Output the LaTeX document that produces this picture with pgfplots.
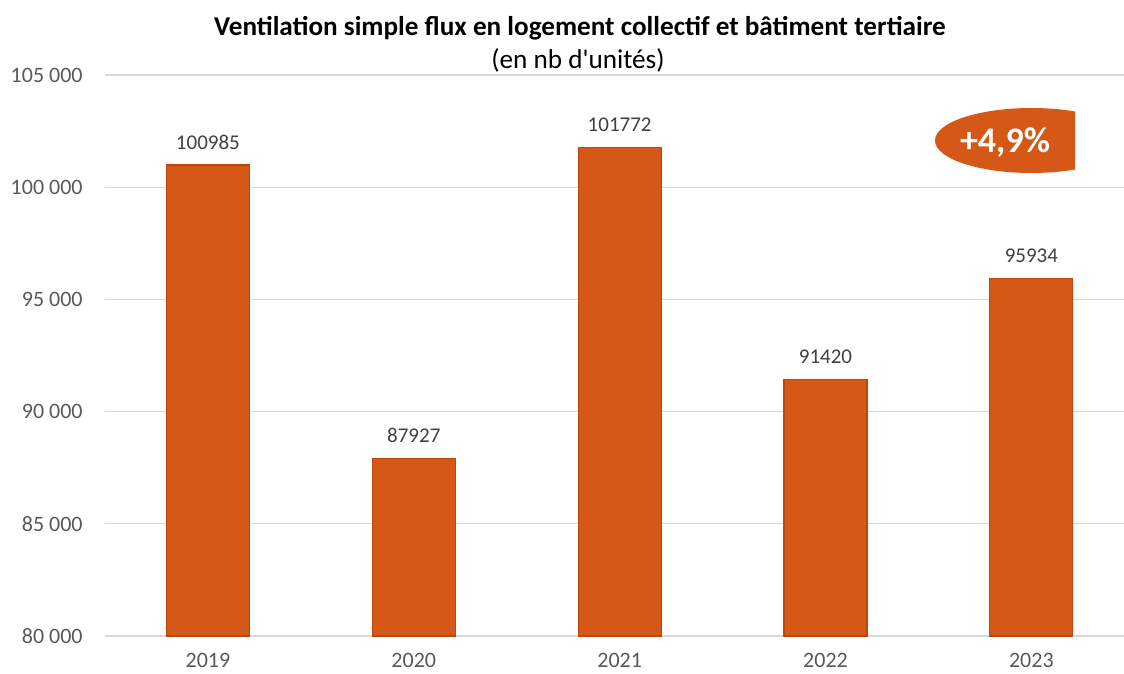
\documentclass[border=0pt]{standalone}
\usepackage{fontspec}
\setmainfont{Carlito}
\usepackage{pgfplots}
\pgfplotsset{compat=1.18}

\definecolor{barorange}{RGB}{213,88,22}
\definecolor{baredge}{RGB}{186,72,14}
\definecolor{gridgray}{RGB}{217,217,217}
\definecolor{ticktext}{RGB}{89,89,89}
\definecolor{labeltext}{RGB}{64,64,64}

\begin{document}
\begin{tikzpicture}
% 1 px of the reference = 0.5pt
\begin{axis}[
    at={(52.5pt,-318pt)}, anchor=south west,
    scale only axis,
    width=509.5pt, height=280.5pt,
    xmin=-0.5, xmax=4.45,
    ymin=80000, ymax=105000,
    ytick={80000,85000,90000,95000,100000,105000},
    scaled y ticks=false,
    xtick={0,1,2,3,4},
    xticklabels={2019,2020,2021,2022,2023},
    major tick length=0pt,
    axis line style={draw=none},
    ymajorgrids=true,
    grid style={gridgray, line width=0.6pt},
    /pgf/number format/assume math mode=true,
    /pgf/number format/.cd, fixed, precision=0, 1000 sep={\ },
    /pgfplots/.cd,
    tick label style={font=\fontsize{11}{13}\selectfont, text=ticktext},
    yticklabel style={anchor=east, inner sep=0pt, xshift=-11pt},
    xticklabel style={anchor=north, inner sep=0pt, yshift=-8.5pt},
    ybar,
    bar width=41.5pt,
    nodes near coords,
    every node near coord/.append style={
        font=\fontsize{10.5}{12}\selectfont, text=labeltext,
        anchor=south, inner sep=0pt, yshift=7.5pt,
        /pgf/number format/.cd, fixed, precision=0, 1000 sep={}},
]
\addplot[fill=barorange, draw=baredge, line width=0.6pt] coordinates {
    (0,100985) (1,87927) (2,101772) (3,91420) (4,95934)
};
\end{axis}
\begin{scope}[x=0.5pt, y=-0.5pt]
    \node[font=\bfseries\fontsize{13.6}{16}\selectfont] at (580,28) {Ventilation simple flux en logement collectif et bâtiment tertiaire};
    \node[font=\fontsize{13.6}{16}\selectfont\addfontfeature{Ligatures=TeXOff}] at (578,60) {(en nb d'unités)};
    \begin{scope}
        \clip (900,90) rectangle (1075,190);
        \fill[barorange] (1031.5,140.5) ellipse [x radius=96.5, y radius=32.5];
    \end{scope}
    \node[font=\bfseries\fontsize{18}{20}\selectfont, text=white] at (1005,143) {+4,9\%};
    \pgfresetboundingbox
    \path[use as bounding box] (0,0) rectangle (1124,674);
\end{scope}
\end{tikzpicture}
\end{document}
